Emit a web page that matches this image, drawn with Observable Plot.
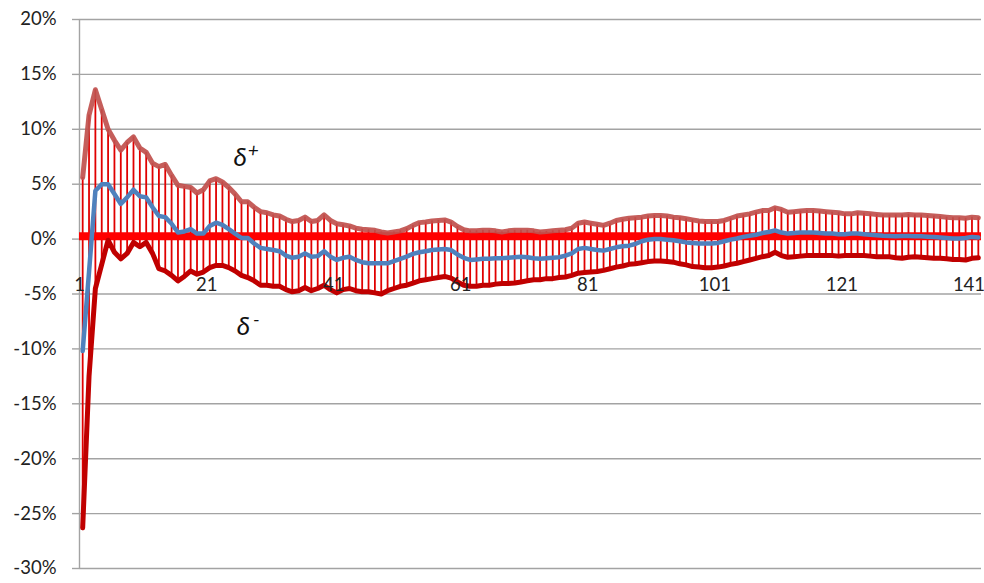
<!DOCTYPE html>
<html><head><meta charset="utf-8">
<script src="https://cdn.jsdelivr.net/npm/d3@7"></script>
<script src="https://cdn.jsdelivr.net/npm/@observablehq/plot@0.6"></script>
<style>html,body{margin:0;padding:0;background:#fff;}</style>
</head><body><div id="chart"></div>
<script>
// δ+ upper bound (%), per step 1..142
const upper = [5.6,11.3,13.6,11.8,10.0,9.0,8.1,8.8,9.3,8.3,7.9,6.9,6.6,6.8,5.8,4.9,4.8,4.7,4.2,4.5,
5.3,5.5,5.2,4.7,4.1,3.4,3.4,2.9,2.5,2.4,2.2,2.1,1.8,1.6,1.7,2.0,1.6,1.7,2.2,1.7,
1.4,1.3,1.2,1.0,0.9,0.85,0.8,0.65,0.55,0.65,0.75,0.95,1.25,1.5,1.55,1.65,1.7,1.75,1.55,1.15,
0.85,0.75,0.75,0.8,0.8,0.75,0.65,0.75,0.8,0.8,0.8,0.75,0.65,0.7,0.75,0.8,0.85,1.0,1.45,1.55,
1.45,1.35,1.25,1.45,1.7,1.8,1.9,1.95,2.0,2.1,2.15,2.15,2.1,2.0,1.95,1.85,1.75,1.65,1.6,1.6,
1.6,1.7,1.9,2.1,2.2,2.3,2.45,2.6,2.6,2.85,2.7,2.45,2.5,2.55,2.6,2.6,2.55,2.5,2.45,2.4,
2.3,2.3,2.4,2.35,2.3,2.25,2.2,2.2,2.2,2.2,2.25,2.2,2.2,2.15,2.1,2.05,2.0,1.95,1.95,1.9,
2.0,1.95];
// central estimate (%)
const middle = [-10.2,-3.0,4.4,5.0,5.0,4.1,3.2,3.8,4.5,3.9,3.8,2.9,2.1,2.0,1.4,0.6,0.7,0.9,0.5,0.5,
1.2,1.5,1.3,0.9,0.5,0.1,0.1,-0.4,-0.8,-0.9,-1.0,-1.1,-1.5,-1.7,-1.6,-1.3,-1.6,-1.55,-1.1,-1.6,
-1.9,-1.7,-1.6,-1.9,-2.1,-2.2,-2.2,-2.2,-2.2,-2.0,-1.8,-1.6,-1.35,-1.2,-1.1,-1.0,-0.95,-0.9,-1.0,-1.4,
-1.7,-1.9,-1.85,-1.8,-1.8,-1.75,-1.75,-1.7,-1.65,-1.6,-1.65,-1.75,-1.8,-1.75,-1.7,-1.65,-1.5,-1.3,-0.9,-0.8,
-0.9,-1.0,-1.05,-0.9,-0.75,-0.65,-0.6,-0.45,-0.2,-0.05,0.0,0.0,-0.05,-0.1,-0.2,-0.3,-0.35,-0.4,-0.4,-0.4,
-0.35,-0.2,-0.05,0.05,0.2,0.3,0.4,0.55,0.65,0.8,0.6,0.5,0.55,0.6,0.6,0.6,0.55,0.5,0.5,0.45,
0.45,0.5,0.5,0.45,0.4,0.35,0.3,0.28,0.25,0.28,0.28,0.27,0.25,0.22,0.2,0.15,0.1,0.05,0.05,0.1,
0.2,0.15];
// δ- lower bound (%)
const lower = [-26.3,-12.5,-4.5,-2.3,-0.1,-1.2,-1.8,-1.3,-0.3,-0.7,-0.3,-1.3,-2.7,-2.9,-3.3,-3.8,-3.4,-2.9,-3.2,-3.0,
-2.6,-2.4,-2.4,-2.6,-2.9,-3.3,-3.5,-3.8,-4.2,-4.2,-4.3,-4.3,-4.6,-4.8,-4.7,-4.4,-4.7,-4.5,-4.2,-4.6,
-4.9,-4.6,-4.5,-4.7,-4.8,-4.8,-4.9,-5.0,-4.7,-4.5,-4.3,-4.2,-4.0,-3.8,-3.7,-3.6,-3.5,-3.4,-3.55,-3.9,
-4.2,-4.3,-4.3,-4.2,-4.2,-4.1,-4.05,-4.05,-4.0,-3.9,-3.8,-3.7,-3.7,-3.6,-3.6,-3.5,-3.45,-3.3,-3.1,-3.05,
-3.0,-2.95,-2.85,-2.7,-2.55,-2.45,-2.3,-2.25,-2.15,-2.05,-2.0,-2.0,-2.05,-2.1,-2.25,-2.35,-2.5,-2.55,-2.6,-2.6,
-2.55,-2.45,-2.3,-2.2,-2.05,-1.9,-1.75,-1.6,-1.5,-1.2,-1.5,-1.65,-1.6,-1.55,-1.5,-1.5,-1.5,-1.5,-1.5,-1.55,
-1.5,-1.5,-1.5,-1.5,-1.55,-1.6,-1.6,-1.6,-1.7,-1.75,-1.65,-1.6,-1.65,-1.7,-1.75,-1.75,-1.8,-1.85,-1.85,-1.9,
-1.75,-1.7];
const benchmark = [0.25];
const yTicks = [-30,-25,-20,-15,-10,-5,0,5,10,15,20];
const xTicks = [1,21,41,61,81,101,121,141];
const xLabelRow = -4.2;
const annotations = [
  {step: 25.8, value: 7.4, base: "δ", sup: "+"},
  {step: 26.3, value: -8.0, base: "δ", sup: "-"}
];

const data = upper.map((u, k) => ({step: k + 1, upper: u, middle: middle[k], lower: lower[k]}));
const grid = "#a3a3a3";

const chart = Plot.plot({
  width: 984, height: 583,
  marginLeft: 79, marginRight: 3, marginTop: 19, marginBottom: 15,
  style: {fontFamily: "Lato, 'Open Sans', sans-serif", fontSize: "18.5px", color: "#222", background: "#fff"},
  x: {domain: [0.5, data.length + 0.5], axis: null},
  y: {domain: [-30, 20]},
  marks: [
    Plot.gridY({ticks: yTicks, stroke: grid, strokeOpacity: 1, strokeWidth: 1.4}),
    Plot.axisY({ticks: yTicks, tickSize: 7, tickPadding: 16, tickFormat: d => d + "%", stroke: grid, strokeWidth: 1.4, fill: "#222", fontSize: 18.5, label: null}),
    Plot.ruleX([0.5], {stroke: grid, strokeWidth: 1.4}),
    Plot.ruleX(data, {x: "step", y1: "lower", y2: "upper", stroke: "#e00000", strokeWidth: 1.8}),
    Plot.ruleY(benchmark, {stroke: "#ff0000", strokeWidth: 8}),
    Plot.line(data, {x: "step", y: "lower", stroke: "#c00000", strokeWidth: 5}),
    Plot.line(data, {x: "step", y: "upper", stroke: "#c0504d", strokeWidth: 5, strokeOpacity: 0.92}),
    Plot.line(data, {x: "step", y: "middle", stroke: "#4f81bd", strokeWidth: 4.5}),
    Plot.text(xTicks, {x: d => d, y: () => xLabelRow, text: d => String(d), fill: "#222", fontSize: 18.5, dx: -3}),
    Plot.text(annotations, {x: "step", y: "value", text: "base", fontStyle: "italic", fontSize: 26, fill: "#111"}),
    Plot.text(annotations, {x: "step", y: "value", text: "sup", fontStyle: "italic", fontSize: 19, fill: "#111", dx: 13, dy: -7})
  ]
});
document.getElementById("chart").appendChild(chart);
</script>
</body></html>
